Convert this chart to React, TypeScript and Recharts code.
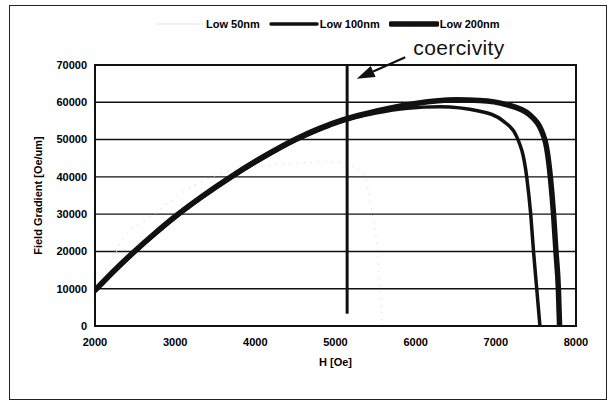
import React from "react"
import { LineChart, Line, XAxis, YAxis, CartesianGrid, ReferenceLine, ReferenceArea, Legend } from "recharts"

// H [Oe] and field gradient [Oe/um]
const h200 = [2000, 2250, 2480, 2740, 3000, 3330, 3700, 4100, 4520, 4780, 5000, 5250, 5500, 6000, 6500, 6800, 7130, 7420, 7610, 7680, 7720, 7750, 7780, 7795]
const g200 = [9600, 15100, 19800, 24750, 29400, 34700, 40100, 45400, 50300, 52800, 54650, 56300, 57600, 59700, 60650, 60500, 59400, 56700, 50000, 40000, 30000, 20000, 10000, 0]

const h100 = [2000, 2250, 2480, 2740, 3000, 3330, 3700, 4100, 4520, 4780, 5000, 5250, 5500, 5900, 6300, 6800, 7090, 7260, 7385, 7435, 7470, 7510, 7550]
const g100 = [9200, 14700, 19400, 24350, 29000, 34300, 39700, 45000, 49900, 52400, 54250, 55900, 57100, 58400, 58800, 57600, 55000, 50800, 40000, 30000, 20000, 10000, 0]

const h50 = [2000, 2200, 2350, 2620, 2800, 3060, 3500, 4000, 4500, 5000, 5250, 5370, 5450, 5515, 5555, 5580, 5590]
const g50 = [10200, 17000, 23500, 28200, 31000, 35300, 40300, 42500, 43700, 44000, 42500, 39700, 31000, 21700, 9700, 2900, 0]

const xTicks = [2000, 3000, 4000, 5000, 6000, 7000, 8000]
const yTicks = [0, 10000, 20000, 30000, 40000, 50000, 60000, 70000]

// vertical coercivity marker and the arrow pointing at it
const coercH = 5145
const coercFrom = 3300
const arrowTail = { x: 5870, y: 72100 }
const arrowTip = { x: 5265, y: 66300 }

const toRows = (hs: number[], gs: number[]) => hs.map((h, i) => ({ h, g: gs[i] }))

const FONT = '"Liberation Sans", Arial, sans-serif'
const tickStyle = { fill: "#000", fontSize: 11, fontWeight: "bold", fontFamily: FONT }

const legendItems = [
  { name: "Low 50nm", color: "#e2e2e2", width: 1 },
  { name: "Low 100nm", color: "#111", width: 3.5 },
  { name: "Low 200nm", color: "#111", width: 5.5 },
]

function ChartLegend() {
  return (
    <div style={{ display: "flex", alignItems: "center", fontFamily: FONT, fontSize: 11, fontWeight: "bold", color: "#000" }}>
      {legendItems.map((it) => (
        <div key={it.name} style={{ display: "flex", alignItems: "center", marginRight: 9 }}>
          <svg width={50} height={8}>
            <line x1={2} y1={4} x2={48} y2={4} stroke={it.color} strokeWidth={it.width} strokeLinecap="round" />
          </svg>
          <span style={{ marginLeft: 1 }}>{it.name}</span>
        </div>
      ))}
    </div>
  )
}

function Arrow(props: any) {
  const { x1, y1, x2, y2 } = props
  const dx = x2 - x1
  const dy = y2 - y1
  const len = Math.sqrt(dx * dx + dy * dy)
  const ux = dx / len
  const uy = dy / len
  const headLen = 18
  const headW = 6
  const bx = x2 - ux * headLen
  const by = y2 - uy * headLen
  const pts = `${x2},${y2} ${bx - uy * headW},${by + ux * headW} ${bx + uy * headW},${by - ux * headW}`
  return (
    <g>
      <line x1={x1} y1={y1} x2={bx} y2={by} stroke="#111" strokeWidth={2.2} />
      <polygon points={pts} fill="#111" />
      <text x={x1 + 8} y={y1 - 2} fontSize={21} fontFamily={FONT} fill="#111" letterSpacing={0.4}>
        coercivity
      </text>
    </g>
  )
}

export default function App() {
  return (
    <div style={{ position: "absolute", left: 0, top: 0, width: 610, height: 405, background: "#fff" }}>
      <div
        style={{
          position: "absolute",
          left: 9,
          top: 5,
          width: 596,
          height: 393,
          border: "1.5px solid #222",
          pointerEvents: "none",
        }}
      />
      <LineChart
        width={610}
        height={405}
        margin={{ top: 65, right: 34, bottom: 27, left: 0 }}
        style={{ fontFamily: FONT }}
      >
        <CartesianGrid vertical={false} stroke="#111" strokeWidth={1.4} />
        <XAxis
          type="number"
          dataKey="h"
          domain={[2000, 8000]}
          ticks={xTicks}
          allowDataOverflow
          tickLine={false}
          axisLine={false}
          tickSize={6}
          tickMargin={6}
          height={40}
          tick={tickStyle}
          label={{ value: "H [Oe]", position: "insideBottom", offset: 0, fill: "#000", style: { ...tickStyle } }}
        />
        <YAxis
          type="number"
          dataKey="g"
          domain={[0, 70000]}
          ticks={yTicks}
          tickLine={false}
          axisLine={false}
          tickSize={6}
          tickMargin={2}
          width={95}
          tick={tickStyle}
          label={{
            value: "Field Gradient [Oe/um]",
            angle: -90,
            position: "insideLeft",
            offset: 38,
            fill: "#000",
            style: { ...tickStyle, textAnchor: "middle" },
          }}
        />
        <ReferenceArea x1={2000} x2={8000} y1={0} y2={70000} fill="none" stroke="#111" strokeWidth={2} ifOverflow="visible" />
        <Legend
          content={() => <ChartLegend />}
          wrapperStyle={{ position: "absolute", top: 18, left: 155, width: 420 }}
        />
        <Line
          name="Low 50nm"
          data={toRows(h50, g50)}
          dataKey="g"
          type="monotone"
          stroke="#d6d6d6"
          strokeWidth={1.2}
          strokeDasharray="1 6"
          dot={false}
          isAnimationActive={false}
        />
        <Line
          name="Low 100nm"
          data={toRows(h100, g100)}
          dataKey="g"
          type="monotone"
          stroke="#111"
          strokeWidth={3.5}
          dot={false}
          isAnimationActive={false}
        />
        <Line
          name="Low 200nm"
          data={toRows(h200, g200)}
          dataKey="g"
          type="monotone"
          stroke="#111"
          strokeWidth={5.5}
          dot={false}
          isAnimationActive={false}
        />
        <ReferenceLine
          segment={[
            { x: coercH, y: coercFrom },
            { x: coercH, y: 70000 },
          ]}
          stroke="#111"
          strokeWidth={3}
          ifOverflow="visible"
        />
        <ReferenceLine
          segment={[arrowTail, arrowTip]}
          ifOverflow="visible"
          shape={(p: any) => <Arrow {...p} />}
        />
      </LineChart>
    </div>
  )
}
